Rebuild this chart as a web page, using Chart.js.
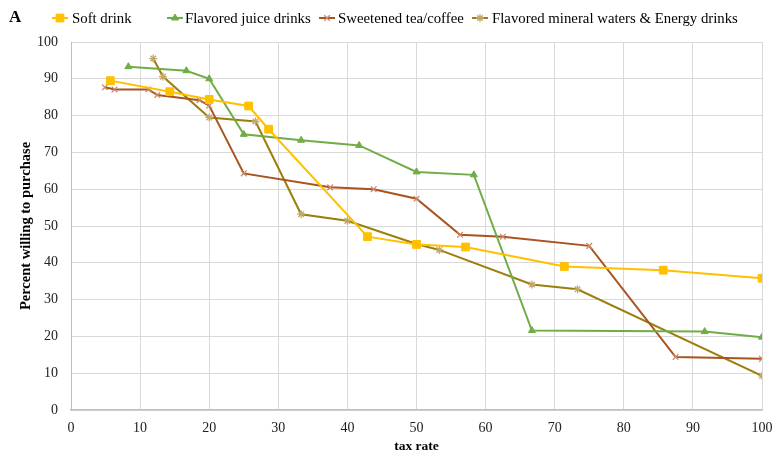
<!DOCTYPE html>
<html>
<head>
<meta charset="utf-8">
<script src="https://cdn.jsdelivr.net/npm/chart.js@4/dist/chart.umd.min.js"></script>
<style>
  html, body { margin: 0; padding: 0; background: #fff; }
  #wrap { width: 773px; height: 456px; }
</style>
</head>
<body>
<div id="wrap"><canvas id="chart" width="773" height="456"></canvas></div>
<script>
// values
var seriesNames = ["Soft drink", "Flavored juice drinks", "Sweetened tea/coffee", "Flavored mineral waters & Energy drinks"];

var softX = [5.7, 14.3, 20, 25.7, 28.6, 42.9, 50, 57.1, 71.4, 85.7, 100];
var softY = [89.5, 86.5, 84.4, 82.6, 76.3, 47.1, 45.0, 44.3, 39.0, 38.0, 35.8];

var juiceX = [8.3, 16.7, 20, 25, 33.3, 41.7, 50, 58.3, 66.7, 91.7, 100];
var juiceY = [93.3, 92.2, 90.0, 74.9, 73.3, 71.9, 64.7, 63.9, 21.6, 21.3, 19.8];

var teaX = [4.9, 6.3, 11.2, 12.5, 18.6, 20, 25, 37.5, 43.8, 50, 56.3, 62.5, 75, 87.5, 100];
var teaY = [87.7, 87.1, 87.1, 85.6, 84.2, 82.7, 64.3, 60.5, 60.0, 57.4, 47.6, 47.1, 44.6, 14.4, 13.9];

var waterX = [11.9, 13.3, 20, 26.7, 33.3, 40, 50, 53.3, 66.7, 73.3, 100];
var waterY = [95.5, 90.6, 79.5, 78.4, 53.2, 51.4, 45.1, 43.5, 34.1, 32.8, 9.3];

var xTicks = [0, 10, 20, 30, 40, 50, 60, 70, 80, 90, 100];
var yTicks = [0, 10, 20, 30, 40, 50, 60, 70, 80, 90, 100];

function pts(xs, ys) {
  return xs.map(function (x, i) { return { x: x, y: ys[i] }; });
}

var serif = "'Liberation Serif', 'Times New Roman', serif";

// legend drawn by hand, Excel style (line + marker)
var legendPos = [
  { mx: 60, tx: 72 },
  { mx: 175, tx: 185 },
  { mx: 327, tx: 338 },
  { mx: 480, tx: 492 }
];

var excelLegend = {
  id: "excelLegend",
  afterDraw: function (chart) {
    var ctx = chart.ctx;
    var y = 18;
    ctx.save();
    ctx.fillStyle = "#000";
    ctx.font = "bold 17px " + serif;
    ctx.textBaseline = "middle";
    ctx.fillText("A", 9, y);
    ctx.font = "14.8px " + serif;
    chart.data.datasets.forEach(function (ds, i) {
      var p = legendPos[i];
      ctx.strokeStyle = ds.borderColor;
      ctx.lineWidth = 2;
      ctx.beginPath();
      ctx.moveTo(p.mx - 8, y);
      ctx.lineTo(p.mx + 8, y);
      ctx.stroke();
      if (Chart.helpers && Chart.helpers.drawPoint) {
        ctx.fillStyle = ds.pointBackgroundColor;
        ctx.strokeStyle = ds.pointBorderColor;
        ctx.lineWidth = ds.pointBorderWidth;
        Chart.helpers.drawPoint(ctx, { pointStyle: ds.pointStyle, radius: ds.pointRadius, borderWidth: ds.pointBorderWidth }, p.mx, y);
      }
      ctx.fillStyle = "#000";
      ctx.fillText(ds.label, p.tx, y + 1);
    });
    ctx.restore();
  }
};

new Chart(document.getElementById("chart"), {
  type: "line",
  data: {
    datasets: [
      {
        label: seriesNames[0],
        data: pts(softX, softY),
        borderColor: "#FFC000",
        backgroundColor: "#FFC000",
        pointBackgroundColor: "#FFC000",
        pointBorderColor: "#FFC000",
        pointBorderWidth: 1,
        pointStyle: "rect",
        pointRadius: 5.5,
        borderWidth: 2
      },
      {
        label: seriesNames[1],
        data: pts(juiceX, juiceY),
        borderColor: "#70AD47",
        backgroundColor: "#70AD47",
        pointBackgroundColor: "#70AD47",
        pointBorderColor: "#70AD47",
        pointBorderWidth: 1,
        pointStyle: "triangle",
        pointRadius: 4,
        borderWidth: 2
      },
      {
        label: seriesNames[2],
        data: pts(teaX, teaY),
        borderColor: "#A9531F",
        backgroundColor: "#A9531F",
        pointBackgroundColor: "#A9531F",
        pointBorderColor: "#C98A70",
        pointBorderWidth: 1.3,
        pointStyle: "crossRot",
        pointRadius: 4,
        borderWidth: 2
      },
      {
        label: seriesNames[3],
        data: pts(waterX, waterY),
        borderColor: "#9C7E0C",
        backgroundColor: "#9C7E0C",
        pointBackgroundColor: "#9C7E0C",
        pointBorderColor: "#C2A868",
        pointBorderWidth: 1.3,
        pointStyle: "star",
        pointRadius: 4,
        borderWidth: 2
      }
    ]
  },
  options: {
    responsive: false,
    animation: false,
    layout: { padding: { top: 42, right: 11, left: 0, bottom: 0 } },
    elements: { line: { tension: 0 } },
    plugins: {
      legend: { display: false },
      tooltip: { enabled: false }
    },
    scales: {
      x: {
        type: "linear",
        min: 0,
        max: 100,
        afterBuildTicks: function (scale) {
          scale.ticks = xTicks.map(function (v) { return { value: v }; });
        },
        afterFit: function (scale) {
          scale.height = 46;
          scale.paddingRight = 0;
          scale.paddingLeft = 0;
        },
        grid: { color: "#D9D9D9", drawTicks: false },
        border: { color: "#BFBFBF", width: 1.5 },
        ticks: { color: "#222", padding: 10, font: { family: serif, size: 14 } },
        title: {
          display: true,
          text: "tax rate",
          color: "#000",
          padding: { top: 0, bottom: 1 },
          font: { family: serif, size: 13.5, weight: "bold" }
        }
      },
      y: {
        min: 0,
        max: 100,
        afterBuildTicks: function (scale) {
          scale.ticks = yTicks.map(function (v) { return { value: v }; });
        },
        afterFit: function (scale) { scale.width = 71; },
        grid: { color: "#D9D9D9", drawTicks: false },
        border: { color: "#BFBFBF", width: 1 },
        ticks: { color: "#222", padding: 13, font: { family: serif, size: 14 } },
        title: {
          display: true,
          text: "Percent willing to purchase",
          color: "#000",
          padding: { top: 18, bottom: 0 },
          font: { family: serif, size: 14.5, weight: "bold" }
        }
      }
    }
  },
  plugins: [excelLegend]
});
</script>
</body>
</html>
